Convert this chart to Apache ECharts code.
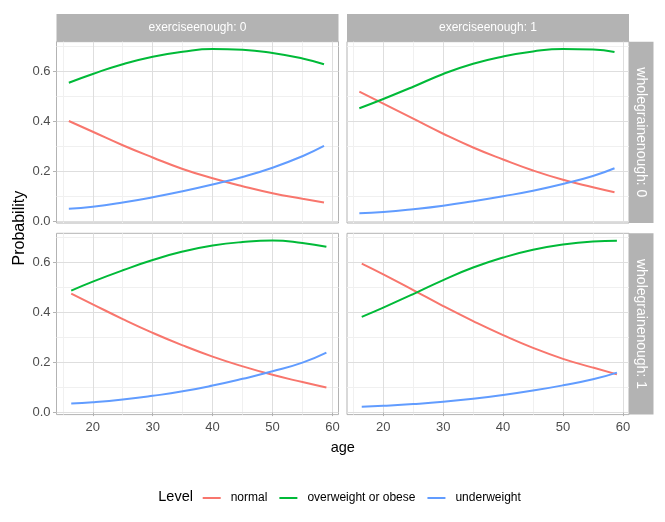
<!DOCTYPE html>
<html><head><meta charset="utf-8">
<script src="https://cdn.jsdelivr.net/npm/echarts@6/dist/echarts.min.js"></script>
<style>html,body{margin:0;padding:0;background:#fff}#c{width:665px;height:522px}</style>
</head><body><div id="c"></div>
<script>
const levels = ['normal', 'overweight or obese', 'underweight'];
const colors = ['#F8766D', '#00BA38', '#619CFF'];
const colLabels = ['exerciseenough: 0', 'exerciseenough: 1'];
const rowLabels = ['wholegrainenough: 0', 'wholegrainenough: 1'];
const xTicks = [20, 30, 40, 50, 60];
const xMinorTicks = [15, 25, 35, 45, 55];
const yTicks = [0, 0.2, 0.4, 0.6];
const yMinorTicks = [0.1, 0.3, 0.5, 0.7];
const ageTop = [16, 20, 25, 30, 35, 40, 45, 50, 55, 58.6];
const ageBottom = [16.4, 20, 25, 30, 35, 40, 45, 50, 55, 59];

// wholegrainenough 0, exerciseenough 0
const w0e0_normal = [0.400, 0.357, 0.303, 0.254, 0.208, 0.171, 0.139, 0.111, 0.089, 0.074];
const w0e0_over   = [0.553, 0.588, 0.627, 0.657, 0.677, 0.688, 0.685, 0.672, 0.650, 0.627];
const w0e0_under  = [0.049, 0.057, 0.074, 0.095, 0.119, 0.146, 0.176, 0.213, 0.259, 0.300];
// wholegrainenough 0, exerciseenough 1
const w0e1_normal = [0.517, 0.469, 0.409, 0.349, 0.294, 0.246, 0.202, 0.165, 0.135, 0.115];
const w0e1_over   = [0.451, 0.488, 0.537, 0.588, 0.629, 0.658, 0.678, 0.688, 0.686, 0.676];
const w0e1_under  = [0.031, 0.036, 0.047, 0.061, 0.079, 0.099, 0.121, 0.148, 0.180, 0.211];
// wholegrainenough 1, exerciseenough 0
const w1e0_normal = [0.476, 0.433, 0.374, 0.319, 0.269, 0.224, 0.185, 0.151, 0.122, 0.100];
const w1e0_over   = [0.488, 0.524, 0.569, 0.610, 0.644, 0.668, 0.682, 0.688, 0.678, 0.663];
const w1e0_under  = [0.036, 0.041, 0.052, 0.067, 0.085, 0.108, 0.135, 0.165, 0.200, 0.240];
// wholegrainenough 1, exerciseenough 1
const w1e1_normal = [0.596, 0.553, 0.490, 0.426, 0.366, 0.310, 0.259, 0.215, 0.180, 0.153];
const w1e1_over   = [0.383, 0.420, 0.474, 0.530, 0.580, 0.620, 0.651, 0.672, 0.684, 0.687];
const w1e1_under  = [0.023, 0.027, 0.034, 0.043, 0.055, 0.070, 0.088, 0.109, 0.133, 0.160];

const panels = [
  { ages: ageTop, vals: [w0e0_normal, w0e0_over, w0e0_under] },
  { ages: ageTop, vals: [w0e1_normal, w0e1_over, w0e1_under] },
  { ages: ageBottom, vals: [w1e0_normal, w1e0_over, w1e0_under] },
  { ages: ageBottom, vals: [w1e1_normal, w1e1_over, w1e1_under] }
];

const FONT = "'Liberation Sans', Arial, sans-serif";
const L = [56.5, 347], T = [41.7, 233.3], W = 282, H = 181.3;
const XMIN = 13.94, XMAX = 61.02, YMIN = -0.008, YMAX = 0.717;

const grids = [], xAxes = [], yAxes = [], series = [], graphics = [];
for (let r = 0; r < 2; r++) {
  for (let c = 0; c < 2; c++) {
    const i = r * 2 + c;
    grids.push({ left: L[c], top: T[r], width: W, height: H, show: true,
      backgroundColor: '#fff', borderColor: '#B3B3B3', borderWidth: 1 });
    xAxes.push({ type: 'value', gridIndex: i, min: XMIN, max: XMAX, z: 2,
      axisLine: { show: false },
      axisTick: { show: r === 1, customValues: xTicks, length: 3.5, lineStyle: { color: '#B3B3B3', width: 1 } },
      axisLabel: { show: r === 1, customValues: xTicks, margin: 6, color: '#4D4D4D', fontSize: 13, fontFamily: FONT },
      splitLine: { show: true, lineStyle: { color: '#DEDEDE', width: 1 } } });
    xAxes.push({ type: 'value', gridIndex: i, min: XMIN, max: XMAX, z: 1,
      axisLine: { show: false },
      axisTick: { show: false, customValues: xMinorTicks },
      axisLabel: { show: false, customValues: xMinorTicks },
      splitLine: { show: true, lineStyle: { color: '#F0F0F0', width: 1 } } });
    yAxes.push({ type: 'value', gridIndex: i, min: YMIN, max: YMAX, z: 2,
      axisLine: { show: false },
      axisTick: { show: c === 0, customValues: yTicks, length: 3.5, lineStyle: { color: '#B3B3B3', width: 1 } },
      axisLabel: { show: c === 0, customValues: yTicks, margin: 6, color: '#4D4D4D', fontSize: 13, fontFamily: FONT,
        formatter: v => v.toFixed(1) },
      splitLine: { show: true, lineStyle: { color: '#DEDEDE', width: 1 } } });
    yAxes.push({ type: 'value', gridIndex: i, min: YMIN, max: YMAX, z: 1,
      axisLine: { show: false },
      axisTick: { show: false, customValues: yMinorTicks },
      axisLabel: { show: false, customValues: yMinorTicks },
      splitLine: { show: true, lineStyle: { color: '#F0F0F0', width: 1 } } });
    const p = panels[i];
    for (let k = 0; k < 3; k++) {
      series.push({ type: 'line', name: levels[k], xAxisIndex: 2 * i, yAxisIndex: 2 * i,
        data: p.ages.map((a, j) => [a, p.vals[k][j]]),
        smooth: 0.5, symbol: 'none', showSymbol: false, silent: true, z: 3,
        color: colors[k], lineStyle: { width: 2, color: colors[k], cap: 'butt' } });
    }
  }
}
// strips
for (let c = 0; c < 2; c++) {
  graphics.push({ type: 'rect', shape: { x: L[c], y: 14, width: W, height: T[0] - 14 }, style: { fill: '#B3B3B3' } });
  graphics.push({ type: 'text', x: L[c] + W / 2, y: (14 + T[0]) / 2,
    style: { text: colLabels[c], fill: '#fff', fontSize: 12, fontFamily: FONT, align: 'center', verticalAlign: 'middle' } });
}
for (let r = 0; r < 2; r++) {
  graphics.push({ type: 'rect', shape: { x: L[1] + W, y: T[r], width: 24.5, height: H }, style: { fill: '#B3B3B3' } });
  graphics.push({ type: 'text', x: L[1] + W + 12.25, y: T[r] + H / 2, rotation: -Math.PI / 2,
    style: { text: rowLabels[r], fill: '#fff', fontSize: 14, fontFamily: FONT, align: 'center', verticalAlign: 'middle' } });
}
graphics.push({ type: 'text', x: 20, y: (T[0] + T[1] + H) / 2, rotation: Math.PI / 2,
  style: { text: 'Probability', fill: '#000', fontSize: 16, fontFamily: FONT, align: 'center', verticalAlign: 'middle' } });
graphics.push({ type: 'text', x: (L[0] + L[1] + W) / 2, y: 448,
  style: { text: 'age', fill: '#000', fontSize: 14.5, fontFamily: FONT, align: 'center', verticalAlign: 'middle' } });
graphics.push({ type: 'text', x: 158.3, y: 497,
  style: { text: 'Level', fill: '#000', fontSize: 14.5, fontFamily: FONT, align: 'left', verticalAlign: 'middle' } });

const chart = echarts.init(document.getElementById('c'), null, { renderer: 'canvas' });
chart.setOption({
  animation: false,
  backgroundColor: '#fff',
  grid: grids, xAxis: xAxes, yAxis: yAxes, series: series,
  legend: { data: levels, left: 202.7, top: 492, padding: 0, icon: 'rect', itemWidth: 18, itemHeight: 2,
    itemGap: 12, selectedMode: false,
    textStyle: { fontSize: 12, color: '#000', fontFamily: FONT, padding: [0, 0, 0, 5] } },
  graphic: graphics
});
</script></body></html>
